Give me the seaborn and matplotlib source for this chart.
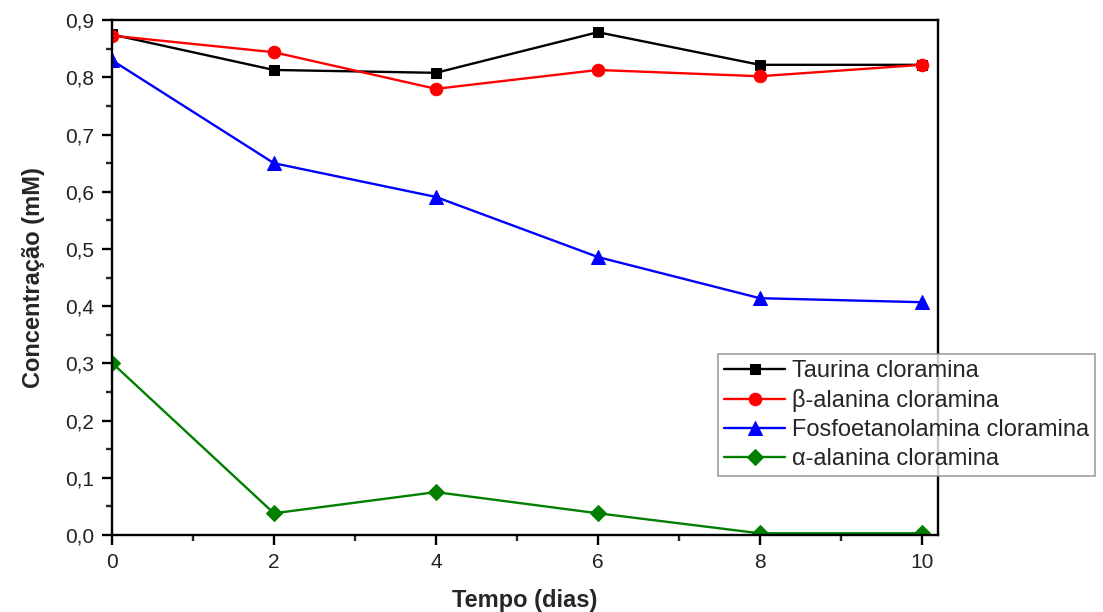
import matplotlib
matplotlib.use("Agg")
import matplotlib.pyplot as plt
from matplotlib.ticker import MultipleLocator, FuncFormatter
import seaborn as sns
import pandas as pd

# Concentration of each chloramine over time (days)
dias = [0, 2, 4, 6, 8, 10]
taurina = [0.875, 0.813, 0.808, 0.879, 0.822, 0.822]
beta_alanina = [0.873, 0.844, 0.780, 0.813, 0.802, 0.822]
fosfoetanolamina = [0.830, 0.650, 0.591, 0.486, 0.414, 0.407]
alfa_alanina = [0.301, 0.038, 0.075, 0.038, 0.003, 0.003]

series_names = ["Taurina cloramina", "\u03b2-alanina cloramina",
                "Fosfoetanolamina cloramina", "\u03b1-alanina cloramina"]
series_values = [taurina, beta_alanina, fosfoetanolamina, alfa_alanina]
colors = ["#000000", "#ff0000", "#0000ff", "#007f00"]
markers = ["s", "o", "^", "D"]
marker_sizes = [7.5, 9, 9.5, 8]

frames = [pd.DataFrame({"Tempo": dias, "Conc": vals, "Serie": name})
          for name, vals in zip(series_names, series_values)]
df = pd.concat(frames, ignore_index=True)

sns.set_style("ticks")
plt.rcParams["font.family"] = ["Liberation Sans", "DejaVu Sans"]

fig = plt.figure(figsize=(11.03, 6.12), dpi=100)
ax = fig.add_axes([0.1015, 0.1258, 0.7489, 0.8412])

for name, col, mk, ms in zip(series_names, colors, markers, marker_sizes):
    sub = df[df["Serie"] == name]
    sns.lineplot(data=sub, x="Tempo", y="Conc", ax=ax, color=col,
                 marker=mk, markersize=ms, markeredgecolor=col,
                 linewidth=1.7, label=name, legend=False)

ax.set_xlim(0, 10.2)
ax.set_ylim(0, 0.9)
ax.xaxis.set_major_locator(MultipleLocator(2))
ax.xaxis.set_minor_locator(MultipleLocator(1))
ax.yaxis.set_major_locator(MultipleLocator(0.1))
ax.yaxis.set_minor_locator(MultipleLocator(0.05))
ax.xaxis.set_major_formatter(FuncFormatter(lambda v, p: f"{v:.0f}"))
ax.yaxis.set_major_formatter(FuncFormatter(lambda v, p: f"{v:.1f}".replace(".", ",")))

for s in ax.spines.values():
    s.set_linewidth(1.7)
    s.set_color("black")
ax.tick_params(which="major", direction="out", length=7, width=1.7,
               labelsize=15, colors="black", labelcolor="#222222", pad=6)
ax.tick_params(which="minor", direction="out", length=4, width=1.7)
ax.tick_params(axis="x", which="both", top=False)
ax.tick_params(axis="y", which="both", right=False)

ax.set_xlabel("Tempo (dias)", fontsize=17, fontweight="bold", labelpad=12)
ax.set_ylabel("Concentração (mM)", fontsize=17, fontweight="bold", labelpad=14)

handles, labels = ax.get_legend_handles_labels()
leg = fig.legend(handles, labels, loc="lower left",
                 bbox_to_anchor=(0.651, 0.222), fontsize=17,
                 frameon=True, fancybox=False, handlelength=2.6,
                 handletextpad=0.3, borderpad=0.25, labelspacing=0.3,
                 borderaxespad=0)
leg.get_frame().set_edgecolor("#888888")
leg.get_frame().set_linewidth(1.2)

fig.savefig("out.png", dpi=100, facecolor="white")
